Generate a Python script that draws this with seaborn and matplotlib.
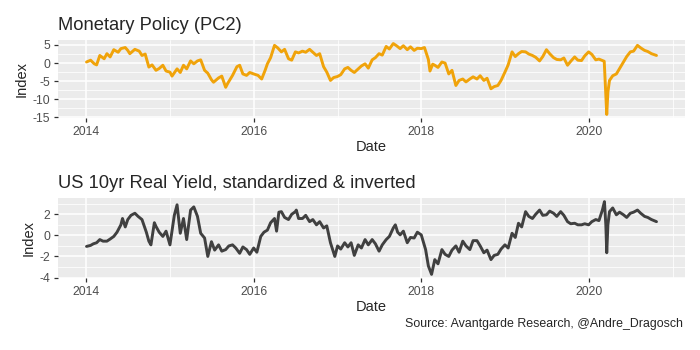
import numpy as np
import pandas as pd
import seaborn as sns
import matplotlib.pyplot as plt
import matplotlib.dates as mdates
from matplotlib.ticker import MultipleLocator

# Monetary Policy (PC2)
mp_dates = [
    "2014-01-02", "2014-01-20", "2014-02-05", "2014-02-15", "2014-03-01", "2014-03-20",
    "2014-04-01", "2014-04-15", "2014-05-01", "2014-05-20", "2014-06-01", "2014-06-20",
    "2014-07-01", "2014-07-10", "2014-08-01", "2014-08-20", "2014-09-01", "2014-09-15",
    "2014-10-01", "2014-10-15", "2014-11-01", "2014-11-15", "2014-12-01", "2014-12-15",
    "2015-01-01", "2015-01-10", "2015-02-01", "2015-02-15", "2015-03-01", "2015-03-15",
    "2015-04-01", "2015-04-15", "2015-05-01", "2015-05-15", "2015-06-01", "2015-06-15",
    "2015-07-01", "2015-07-10", "2015-08-01", "2015-08-15", "2015-09-01", "2015-09-10",
    "2015-10-01", "2015-10-20", "2015-11-01", "2015-11-15", "2015-12-01", "2015-12-15",
    "2016-01-01", "2016-01-20", "2016-02-05", "2016-02-20", "2016-03-01", "2016-03-15",
    "2016-04-01", "2016-04-15", "2016-05-01", "2016-05-15", "2016-06-01", "2016-06-15",
    "2016-07-01", "2016-07-15", "2016-08-01", "2016-08-15", "2016-09-01", "2016-09-15",
    "2016-10-01", "2016-10-15", "2016-11-01", "2016-11-15", "2016-12-01", "2016-12-15",
    "2017-01-01", "2017-01-15", "2017-02-01", "2017-02-15", "2017-03-01", "2017-03-15",
    "2017-04-01", "2017-04-15", "2017-05-01", "2017-05-15", "2017-06-01", "2017-06-15",
    "2017-07-01", "2017-07-15", "2017-08-01", "2017-08-15", "2017-09-01", "2017-09-15",
    "2017-10-01", "2017-10-15", "2017-11-01", "2017-11-15", "2017-12-01", "2017-12-15",
    "2018-01-01", "2018-01-15", "2018-02-01", "2018-02-08", "2018-02-20", "2018-03-01",
    "2018-03-15", "2018-04-01", "2018-04-15", "2018-05-01", "2018-05-15", "2018-06-01",
    "2018-06-15", "2018-07-01", "2018-07-15", "2018-08-01", "2018-08-15", "2018-09-01",
    "2018-09-15", "2018-10-01", "2018-10-15", "2018-11-01", "2018-11-15", "2018-12-01",
    "2018-12-15", "2019-01-01", "2019-01-15", "2019-02-01", "2019-02-15", "2019-03-01",
    "2019-03-15", "2019-04-01", "2019-04-15", "2019-05-01", "2019-05-15", "2019-06-01",
    "2019-06-15", "2019-07-01", "2019-07-15", "2019-08-01", "2019-08-15", "2019-09-01",
    "2019-09-15", "2019-10-01", "2019-10-15", "2019-11-01", "2019-11-15", "2019-12-01",
    "2019-12-15", "2020-01-01", "2020-01-15", "2020-02-01", "2020-02-15", "2020-03-01",
    "2020-03-09", "2020-03-20", "2020-03-25", "2020-04-01", "2020-04-15", "2020-05-01",
    "2020-05-15", "2020-06-01", "2020-06-15", "2020-07-01", "2020-07-15", "2020-08-01",
    "2020-08-15", "2020-09-01", "2020-09-15", "2020-10-01", "2020-10-23",
]
mp_values = [
    0.3, 0.8, -0.2, -0.5, 2.1, 1.2,
    2.6, 1.7, 3.7, 3.0, 4.0, 4.3,
    3.5, 2.6, 3.8, 3.3, 2.1, 2.5,
    -1.1, -0.5, -2.0, -1.5, -0.6, -2.2,
    -2.5, -3.6, -1.6, -2.6, -0.6, -1.6,
    0.6, -0.2, 0.6, 0.9, -2.0, -2.8,
    -4.6, -5.3, -4.1, -3.6, -6.7, -5.6,
    -3.4, -1.0, -0.6, -3.0, -3.4, -2.6,
    -3.0, -3.4, -4.4, -2.0, -0.2, 1.5,
    4.9, 4.2, 3.1, 3.8, 1.2, 0.8,
    3.1, 2.8, 3.3, 3.0, 3.8, 3.0,
    2.1, 2.6, -1.0, -2.5, -4.8, -4.0,
    -3.7, -3.2, -1.6, -1.2, -2.0, -2.6,
    -1.6, -0.8, -0.2, -1.4, 0.9, 1.5,
    2.6, 2.2, 4.6, 3.9, 5.4, 4.8,
    4.0, 4.8, 3.7, 4.5, 3.5, 4.1,
    4.0, 4.3, 1.0, -2.2, -0.3, -0.6,
    -1.2, 0.3, 0.0, -3.0, -2.0, -6.2,
    -4.8, -4.4, -5.2, -4.4, -3.8, -4.4,
    -3.5, -4.8, -4.2, -7.1, -6.5, -6.2,
    -4.8, -2.5, -0.5, 3.1, 1.8, 2.6,
    3.2, 3.1, 2.5, 2.1, 1.6, 0.6,
    1.8, 3.7, 2.6, 1.5, 1.0, 0.9,
    1.4, -0.6, 0.5, 1.7, 0.8, 0.7,
    2.0, 3.1, 2.4, 0.9, 1.1, 0.7,
    0.5, -14.2, -8.0, -4.8, -3.5, -3.0,
    -1.5, 0.3, 1.8, 3.1, 3.3, 4.9,
    4.2, 3.5, 3.2, 2.6, 2.1,
]

# US 10yr Real Yield, standardized & inverted
rr_dates = [
    "2014-01-02", "2014-01-20", "2014-02-01", "2014-02-15", "2014-03-01", "2014-03-15",
    "2014-04-01", "2014-04-15", "2014-05-01", "2014-05-15", "2014-06-01", "2014-06-08",
    "2014-06-20", "2014-07-01", "2014-07-15", "2014-08-01", "2014-08-15", "2014-09-01",
    "2014-09-20", "2014-10-01", "2014-10-10", "2014-10-25", "2014-11-01", "2014-11-15",
    "2014-12-01", "2014-12-15", "2015-01-01", "2015-01-20", "2015-02-01", "2015-02-15",
    "2015-03-01", "2015-03-15", "2015-04-01", "2015-04-15", "2015-05-01", "2015-05-15",
    "2015-06-01", "2015-06-15", "2015-07-01", "2015-07-15", "2015-08-01", "2015-08-15",
    "2015-09-01", "2015-09-15", "2015-10-01", "2015-10-15", "2015-11-01", "2015-11-15",
    "2015-12-01", "2015-12-15", "2016-01-01", "2016-01-15", "2016-02-01", "2016-02-15",
    "2016-03-01", "2016-03-15", "2016-04-01", "2016-04-10", "2016-04-20", "2016-05-01",
    "2016-05-15", "2016-06-01", "2016-06-15", "2016-07-01", "2016-07-05", "2016-07-15",
    "2016-08-01", "2016-08-15", "2016-09-01", "2016-09-15", "2016-10-01", "2016-10-15",
    "2016-11-01", "2016-11-15", "2016-12-01", "2016-12-20", "2017-01-01", "2017-01-15",
    "2017-02-01", "2017-02-15", "2017-03-01", "2017-03-15", "2017-04-01", "2017-04-15",
    "2017-05-01", "2017-05-15", "2017-06-01", "2017-06-15", "2017-07-01", "2017-07-15",
    "2017-08-01", "2017-08-15", "2017-09-01", "2017-09-10", "2017-09-20", "2017-10-01",
    "2017-10-15", "2017-11-01", "2017-11-15", "2017-12-01", "2017-12-15", "2018-01-01",
    "2018-01-20", "2018-02-01", "2018-02-15", "2018-03-01", "2018-03-15", "2018-04-01",
    "2018-04-15", "2018-05-01", "2018-05-15", "2018-06-01", "2018-06-15", "2018-07-01",
    "2018-07-15", "2018-08-01", "2018-08-15", "2018-09-01", "2018-09-15", "2018-10-01",
    "2018-10-15", "2018-11-01", "2018-11-15", "2018-12-01", "2018-12-15", "2019-01-01",
    "2019-01-15", "2019-02-01", "2019-02-15", "2019-03-01", "2019-03-15", "2019-04-01",
    "2019-04-15", "2019-05-01", "2019-05-15", "2019-06-01", "2019-06-15", "2019-07-01",
    "2019-07-15", "2019-08-01", "2019-08-15", "2019-09-01", "2019-09-15", "2019-10-01",
    "2019-10-15", "2019-11-01", "2019-11-15", "2019-12-01", "2019-12-15", "2020-01-01",
    "2020-01-15", "2020-02-01", "2020-02-15", "2020-03-01", "2020-03-10", "2020-03-16",
    "2020-03-20", "2020-03-25", "2020-04-01", "2020-04-15", "2020-05-01", "2020-05-15",
    "2020-06-01", "2020-06-15", "2020-07-01", "2020-07-15", "2020-08-01", "2020-08-15",
    "2020-09-01", "2020-09-15", "2020-10-01", "2020-10-23",
]
rr_values = [
    -1.05, -0.95, -0.8, -0.7, -0.4, -0.55,
    -0.55, -0.35, -0.1, 0.3, 1.0, 1.6,
    0.8, 1.5, 1.9, 2.1, 1.8, 1.5,
    0.3, -0.55, -0.9, 1.2, 0.85, 0.3,
    -0.1, 0.4, -0.9, 1.9, 2.9, 0.2,
    1.6, -0.4, 2.4, 2.7, 1.8, 0.2,
    -0.25, -2.0, -0.6, -1.4, -0.9, -1.5,
    -1.35, -1.0, -0.9, -1.2, -1.7, -1.1,
    -1.35, -1.8, -1.2, -1.6, -0.1, 0.3,
    0.5, 1.2, 1.6, 0.4, 2.2, 2.25,
    1.7, 1.5, 2.0, 2.25, 2.4, 1.6,
    1.6, 1.9, 1.3, 1.5, 1.0, 1.3,
    0.7, 0.9, -0.7, -2.0, -1.0, -1.3,
    -0.7, -1.1, -0.7, -1.9, -0.9, -1.2,
    -0.4, -0.9, -0.4, -0.8, -1.5, -0.9,
    -0.4, -0.1, 0.7, 1.0, 0.3, 0.05,
    0.4, -0.7, -0.2, -0.25, 0.3, 0.05,
    -1.35, -2.9, -3.7, -2.3, -2.7, -1.35,
    -1.8, -2.0, -1.4, -1.0, -1.6, -0.55,
    -1.0, -1.35, -0.5, -0.5, -1.0, -1.65,
    -1.4, -2.3, -1.9, -1.8, -1.3, -0.9,
    -1.2, 0.2, -0.2, 1.15, 0.8, 2.25,
    1.8, 1.6, 2.0, 2.4, 1.9, 1.95,
    2.3, 2.1, 1.8, 2.25, 1.9, 1.3,
    1.1, 1.15, 1.0, 1.0, 1.1, 1.0,
    1.3, 1.5, 1.4, 2.4, 3.2, 1.0,
    -1.65, 1.0, 2.25, 2.6, 1.95, 2.2,
    1.95, 1.7, 2.1, 2.2, 2.4, 2.1,
    1.8, 1.7, 1.5, 1.3,
]

mp = pd.DataFrame({"Date": pd.to_datetime(mp_dates), "Index": mp_values})
rr = pd.DataFrame({"Date": pd.to_datetime(rr_dates), "Index": rr_values})

sns.set_style("darkgrid", {
    "axes.facecolor": "#EBEBEB",
    "grid.color": "white",
    "axes.edgecolor": "#EBEBEB",
    "xtick.bottom": True,
    "ytick.left": True,
})
plt.rcParams["font.family"] = ["Liberation Sans", "DejaVu Sans"]
plt.rcParams["axes.unicode_minus"] = False

fig = plt.figure(figsize=(7, 3.5), dpi=100)
ax1 = fig.add_axes([58 / 700, 1 - 118 / 350, 627 / 700, 78 / 350])
ax2 = fig.add_axes([58 / 700, 1 - 278 / 350, 627 / 700, 80 / 350])

sns.lineplot(data=mp, x="Date", y="Index", ax=ax1, color="#F0A30A", linewidth=2.1)
sns.lineplot(data=rr, x="Date", y="Index", ax=ax2, color="#404040", linewidth=2.1)

panels = [
    (ax1, "Monetary Policy (PC2)", 5, 2.5),
    (ax2, "US 10yr Real Yield, standardized & inverted", 2, 1),
]
for ax, title, major, minor in panels:
    ax.margins(x=0.05, y=0.05)
    ax.xaxis.set_major_locator(mdates.YearLocator(2))
    ax.xaxis.set_minor_locator(mdates.YearLocator(1))
    ax.xaxis.set_major_formatter(mdates.DateFormatter("%Y"))
    ax.yaxis.set_major_locator(MultipleLocator(major))
    ax.yaxis.set_minor_locator(MultipleLocator(minor))
    ax.grid(which="major", color="white", linewidth=1.1)
    ax.grid(which="minor", color="white", linewidth=0.55)
    ax.set_axisbelow(True)
    for s in ax.spines.values():
        s.set_visible(False)
    ax.tick_params(which="major", length=3, width=0.9, color="#333333",
                   labelsize=8.8, labelcolor="#4D4D4D", pad=2.5)
    ax.tick_params(which="minor", length=0)
    ax.set_xlabel("Date", fontsize=10.5, labelpad=2)
    ax.set_ylabel("Index", fontsize=10.5, labelpad=3)
    ax.set_title(title, loc="left", fontsize=13.2, pad=7)

fig.text(683 / 700, 1 - 324 / 350, "Source: Avantgarde Research, @Andre_Dragosch",
         ha="right", va="center", fontsize=8.9)

fig.savefig("out.png", dpi=100)
